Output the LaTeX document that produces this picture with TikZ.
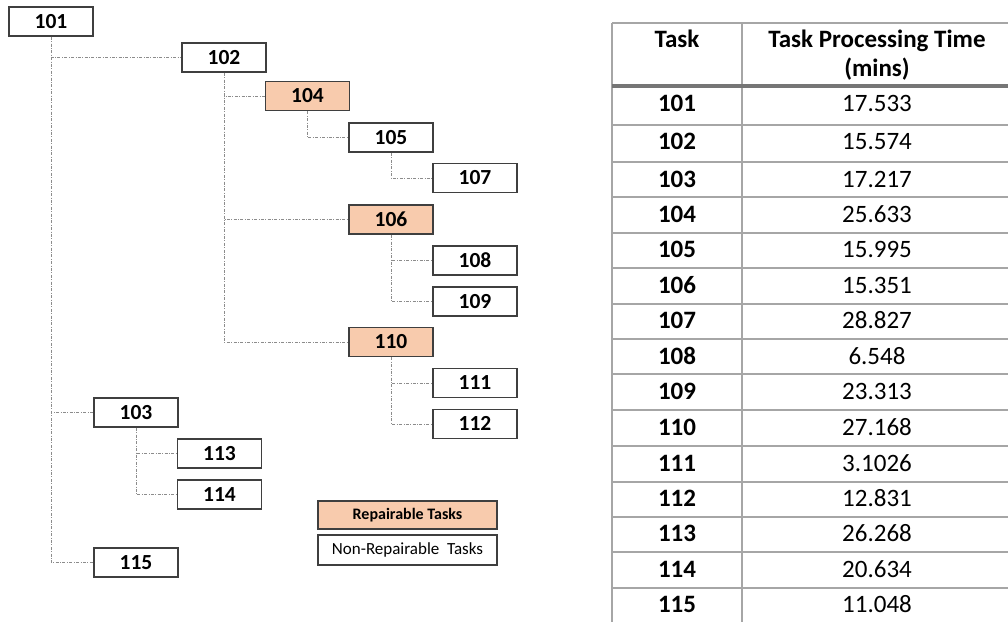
\documentclass[tikz,border=0pt]{standalone}
\usepackage{fontspec}
\setmainfont{Carlito}
\definecolor{repair}{HTML}{F8CBAD}
\definecolor{boxline}{HTML}{3F3F3F}
\definecolor{linkgray}{HTML}{8C8C8C}
\definecolor{rulegray}{HTML}{A6A6A6}
\definecolor{headrule}{HTML}{767676}
\begin{document}
\begin{tikzpicture}[x=1pt,y=-1pt,
  task/.style={draw=boxline, line width=1.5pt, fill=white, minimum width=84pt,
    minimum height=29pt, inner sep=0pt, font=\fontsize{21.5}{25}\selectfont\bfseries,
    text height=13.5pt, text depth=0pt},
  repairable/.style={task, fill=repair},
  link/.style={draw=linkgray, line width=1pt,
    dash pattern=on 3pt off 1.5pt on 0.8pt off 1.5pt},
  cell/.style={inner sep=0pt, text height=15.8pt, text depth=0pt,
    font=\fontsize{25}{29}\selectfont},
  headcell/.style={cell, font=\fontsize{25}{29}\selectfont\bfseries},
  legendbox/.style={draw=boxline, line width=1.5pt, minimum width=179pt, inner sep=0pt},
  tablerule/.style={draw=rulegray, line width=1.8pt}]
\useasboundingbox (0,0) rectangle (1008,622);

% task tree
\node[task]       (n101) at (51,21.5)  {101};
\node[task]       (n102) at (224,57.5) {102};
\node[repairable] (n104) at (307.5,96) {104};
\node[task]       (n105) at (391,137.5) {105};
\node[task]       (n107) at (475,178)  {107};
\node[repairable] (n106) at (391,219.5) {106};
\node[task]       (n108) at (475,260.5) {108};
\node[task]       (n109) at (475,301.5) {109};
\node[repairable] (n110) at (391,342)  {110};
\node[task]       (n111) at (475,383)  {111};
\node[task]       (n112) at (475,424)  {112};
\node[task]       (n103) at (136,412.5) {103};
\node[task]       (n113) at (219.5,453.5) {113};
\node[task]       (n114) at (219.5,494.5) {114};
\node[task]       (n115) at (136,562.5) {115};

\foreach \p/\c in {101/102,101/103,101/115,102/104,102/106,102/110,
                   104/105,105/107,106/108,106/109,110/111,110/112,
                   103/113,103/114}
  \draw[link] (n\p.south) |- (n\c.west);

% legend
\node[legendbox, fill=repair, minimum height=28pt,
  font=\fontsize{16}{19}\selectfont\bfseries] (legrep) at (407.5,515) {Repairable Tasks};
\node[legendbox, fill=white, minimum height=30pt,
  font=\fontsize{17}{20}\selectfont] (legnon) at (407.5,550) {Non-Repairable~ Tasks};

% processing time table
\draw[tablerule] (612,23) -- (1008,23);
\draw[tablerule] (612,23) -- (612,622);
\draw[tablerule] (742,23) -- (742,622);
\foreach \y in {125,162,197,233,268,304,339,374,410,446,482,517,552,588}
  \draw[tablerule] (612,\y) -- (1008,\y);
\draw[draw=headrule, line width=3.5pt] (612,86) -- (1008,86);

\node[headcell] (hTask) at (677,40) {Task};
\node[headcell] (hTime) at (877,40) {Task Processing Time};
\node[headcell] (hMins) at (877,69) {(mins)};

\foreach \t/\v/\y in {101/17.533/104,102/15.574/142,103/17.217/179.5,
  104/25.633/215,105/15.995/250,106/15.351/285.5,107/28.827/321,
  108/6.548/356.5,109/23.313/391.5,110/27.168/427.5,111/3.1026/463.5,
  112/12.831/499,113/26.268/534,114/20.634/570,115/11.048/605}{
  \node[headcell] (t\t) at (677,\y) {\t};
  \node[cell] (v\t) at (877,\y) {\v};
}
\end{tikzpicture}
\end{document}
